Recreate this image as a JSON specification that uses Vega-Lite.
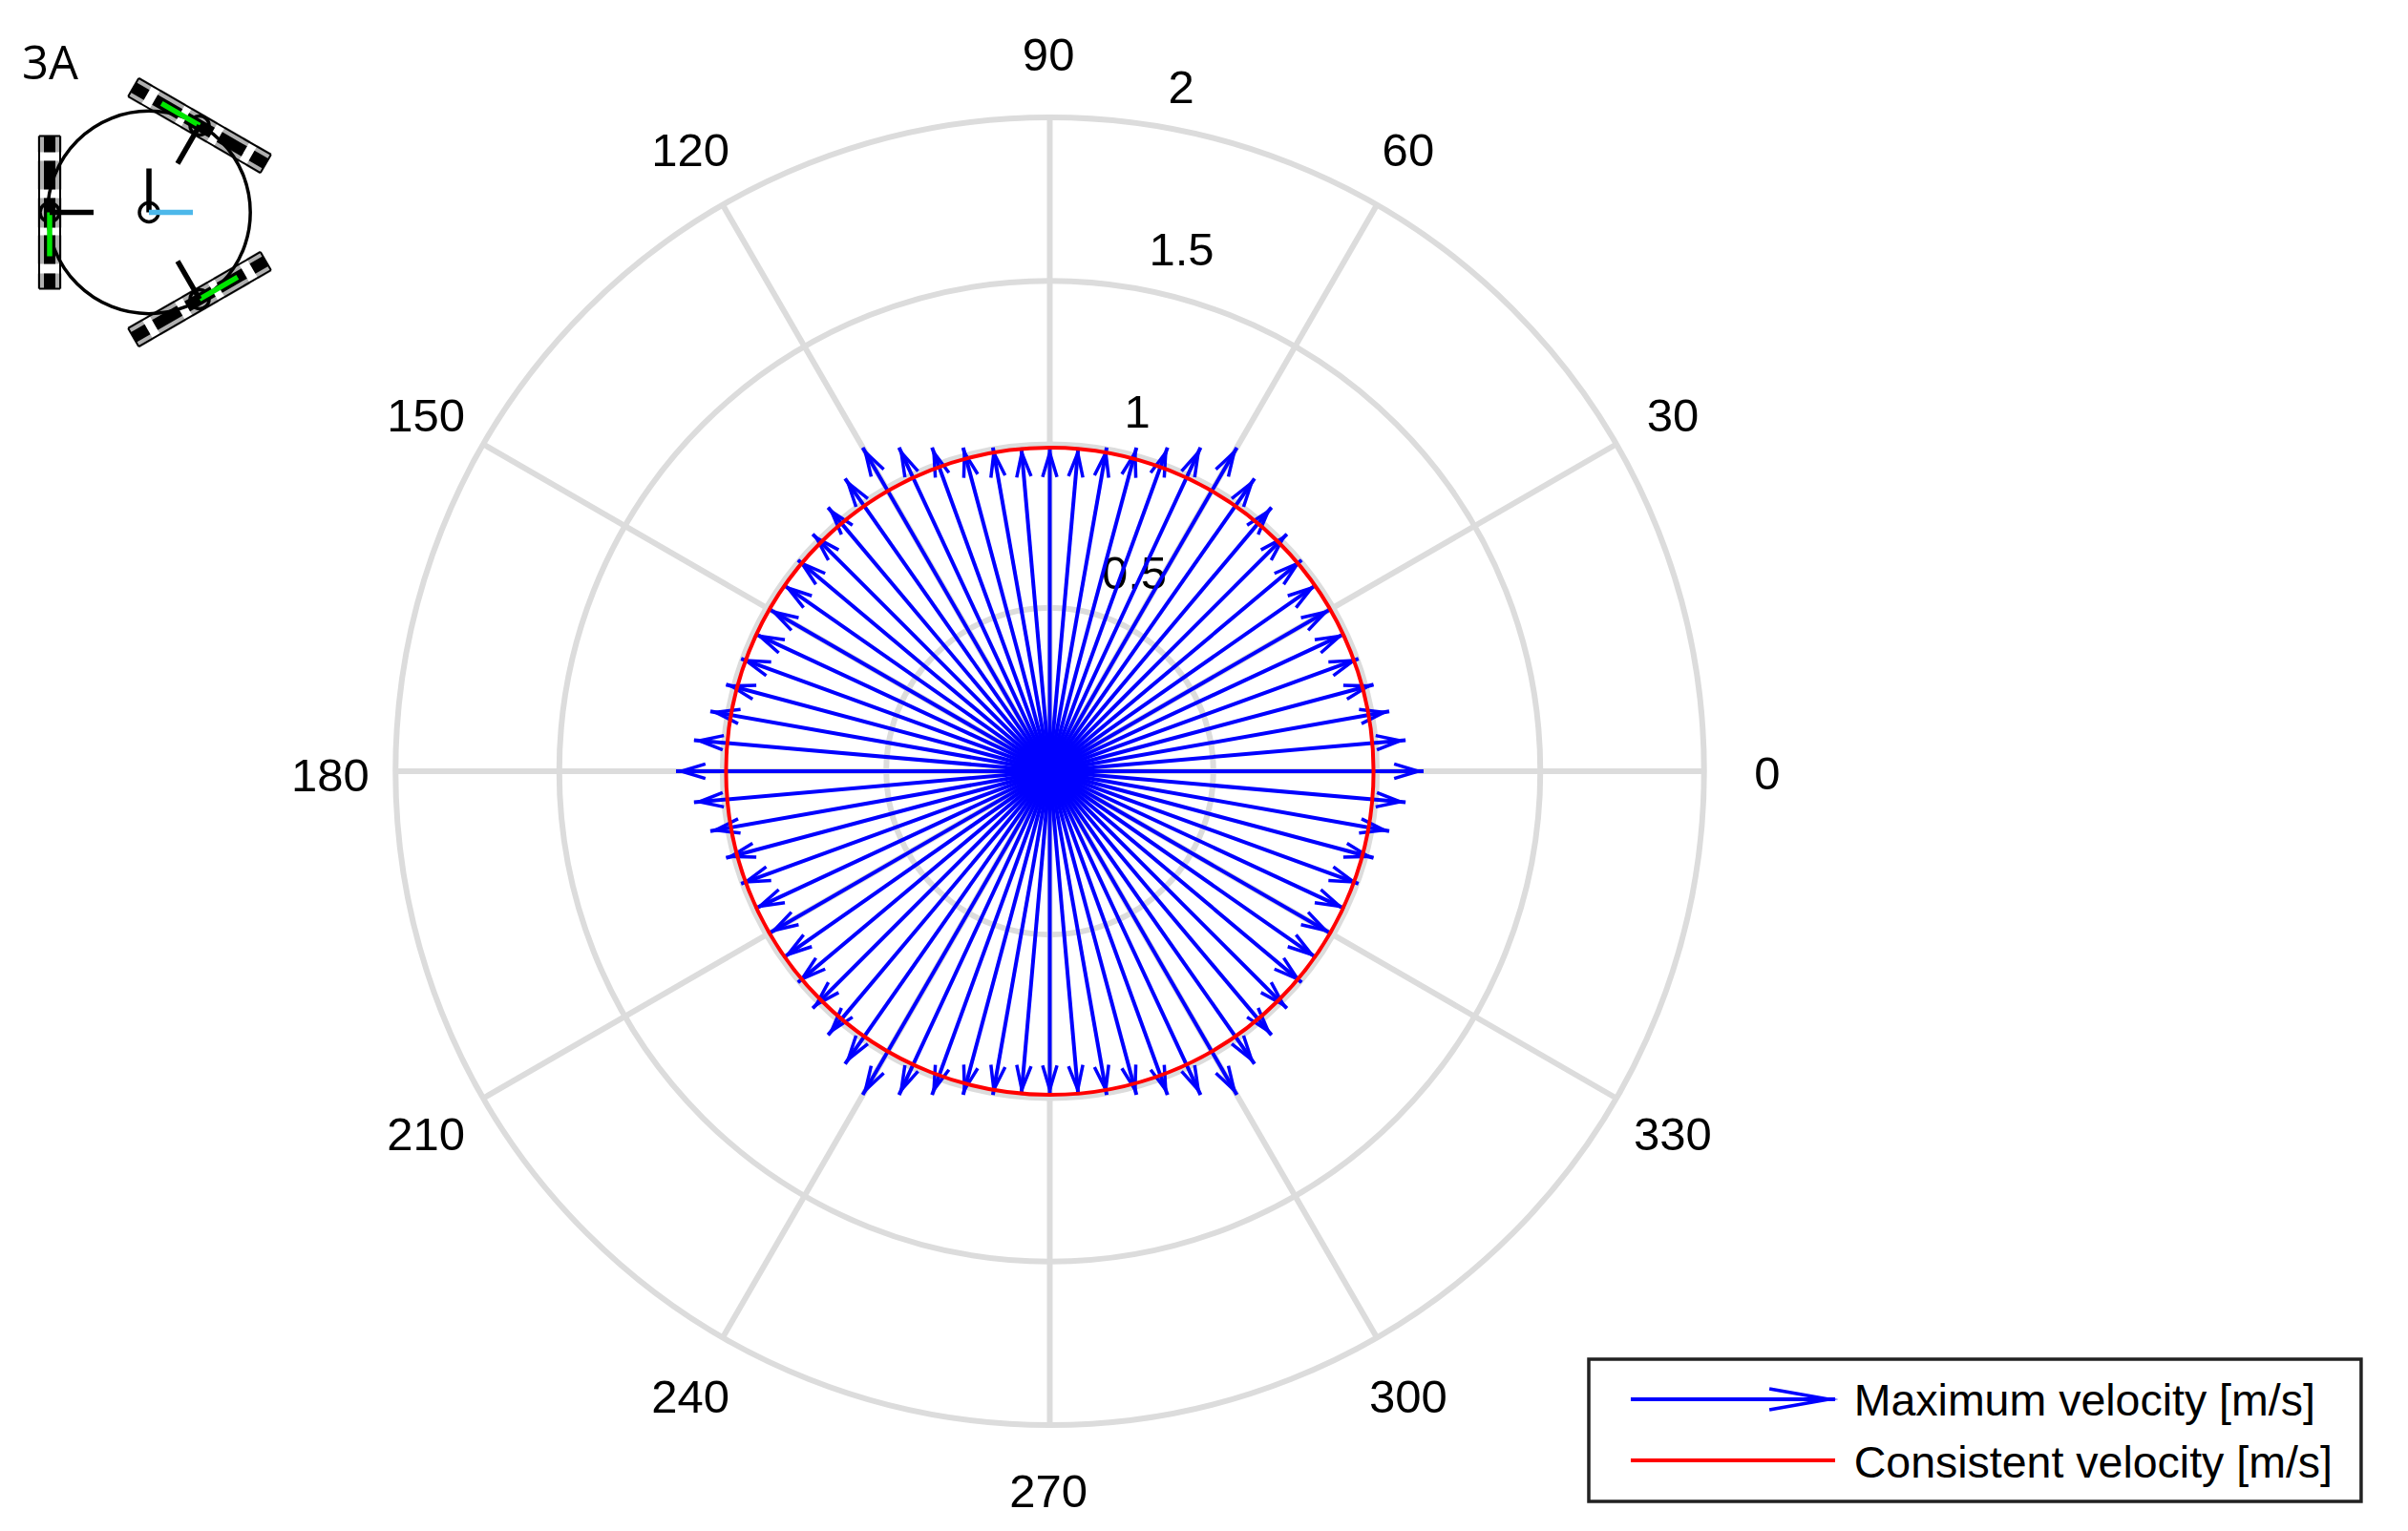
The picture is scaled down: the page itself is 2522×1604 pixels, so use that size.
{
  "$schema": "https://vega.github.io/schema/vega-lite/v6.json",
  "description": "Polar velocity plot of a three wheeled omni robot, maximum and consistent velocity per direction.",
  "width": 2522,
  "height": 1604,
  "padding": 0,
  "autosize": {"type": "none"},
  "background": "white",
  "config": {"view": {"stroke": null}},
  "resolve": {"scale": {"stroke": "independent"}},
  "datasets": {
    "rings": [{"x": 0, "y": 0, "r": 0.5}, {"x": 0, "y": 0, "r": 1}, {"x": 0, "y": 0, "r": 1.5}, {"x": 0, "y": 0, "r": 2}],
    "consistent": [{"x": 0, "y": 0, "r": 0.99}],
    "spokes": [
      {"x": 2, "y": 0}, {"x": 1.732, "y": 1}, {"x": 1, "y": 1.732}, {"x": 0, "y": 2}, {"x": -1, "y": 1.732}, {"x": -1.732, "y": 1},
      {"x": -2, "y": 0}, {"x": -1.732, "y": -1}, {"x": -1, "y": -1.732}, {"x": 0, "y": -2}, {"x": 1, "y": -1.732}, {"x": 1.732, "y": -1}
    ],
    "radialLabels": [
      {"label": "2", "x": 0.4015, "y": 2.0934}, {"label": "1.5", "x": 0.4029, "y": 1.5942},
      {"label": "1", "x": 0.2672, "y": 1.0993}, {"label": "0.5", "x": 0.2584, "y": 0.6058}
    ],
    "angleLabels": [
      {"label": "0", "x": 2.194, "y": -0.006}, {"label": "30", "x": 1.905, "y": 1.089}, {"label": "60", "x": 1.096, "y": 1.898},
      {"label": "90", "x": -0.004, "y": 2.19}, {"label": "120", "x": -1.099, "y": 1.898}, {"label": "150", "x": -1.908, "y": 1.089},
      {"label": "180", "x": -2.2, "y": -0.012}, {"label": "210", "x": -1.908, "y": -1.11}, {"label": "240", "x": -1.099, "y": -1.915},
      {"label": "270", "x": -0.004, "y": -2.204}, {"label": "300", "x": 1.096, "y": -1.915}, {"label": "330", "x": 1.905, "y": -1.11}
    ],
    "maxVelocity": [
      {"direction": 0, "x": 1.143, "y": 0}, {"direction": 5, "x": 1.088, "y": 0.095}, {"direction": 10, "x": 1.038, "y": 0.183},
      {"direction": 15, "x": 0.99, "y": 0.265}, {"direction": 20, "x": 0.944, "y": 0.344}, {"direction": 25, "x": 0.901, "y": 0.42},
      {"direction": 30, "x": 0.857, "y": 0.495}, {"direction": 35, "x": 0.814, "y": 0.57}, {"direction": 40, "x": 0.77, "y": 0.646},
      {"direction": 45, "x": 0.725, "y": 0.725}, {"direction": 50, "x": 0.678, "y": 0.807}, {"direction": 55, "x": 0.626, "y": 0.895},
      {"direction": 60, "x": 0.572, "y": 0.99}, {"direction": 65, "x": 0.461, "y": 0.99}, {"direction": 70, "x": 0.36, "y": 0.99},
      {"direction": 75, "x": 0.265, "y": 0.99}, {"direction": 80, "x": 0.174, "y": 0.99}, {"direction": 85, "x": 0.087, "y": 0.99},
      {"direction": 90, "x": 0, "y": 0.99}, {"direction": 95, "x": -0.087, "y": 0.99}, {"direction": 100, "x": -0.174, "y": 0.99},
      {"direction": 105, "x": -0.265, "y": 0.99}, {"direction": 110, "x": -0.36, "y": 0.99}, {"direction": 115, "x": -0.461, "y": 0.99},
      {"direction": 120, "x": -0.572, "y": 0.99}, {"direction": 125, "x": -0.626, "y": 0.895}, {"direction": 130, "x": -0.678, "y": 0.807},
      {"direction": 135, "x": -0.725, "y": 0.725}, {"direction": 140, "x": -0.77, "y": 0.646}, {"direction": 145, "x": -0.814, "y": 0.57},
      {"direction": 150, "x": -0.857, "y": 0.495}, {"direction": 155, "x": -0.901, "y": 0.42}, {"direction": 160, "x": -0.944, "y": 0.344},
      {"direction": 165, "x": -0.99, "y": 0.265}, {"direction": 170, "x": -1.038, "y": 0.183}, {"direction": 175, "x": -1.088, "y": 0.095},
      {"direction": 180, "x": -1.143, "y": 0}, {"direction": 185, "x": -1.088, "y": -0.095}, {"direction": 190, "x": -1.038, "y": -0.183},
      {"direction": 195, "x": -0.99, "y": -0.265}, {"direction": 200, "x": -0.944, "y": -0.344}, {"direction": 205, "x": -0.901, "y": -0.42},
      {"direction": 210, "x": -0.857, "y": -0.495}, {"direction": 215, "x": -0.814, "y": -0.57}, {"direction": 220, "x": -0.77, "y": -0.646},
      {"direction": 225, "x": -0.725, "y": -0.725}, {"direction": 230, "x": -0.678, "y": -0.807}, {"direction": 235, "x": -0.626, "y": -0.895},
      {"direction": 240, "x": -0.572, "y": -0.99}, {"direction": 245, "x": -0.461, "y": -0.99}, {"direction": 250, "x": -0.36, "y": -0.99},
      {"direction": 255, "x": -0.265, "y": -0.99}, {"direction": 260, "x": -0.174, "y": -0.99}, {"direction": 265, "x": -0.087, "y": -0.99},
      {"direction": 270, "x": 0, "y": -0.99}, {"direction": 275, "x": 0.087, "y": -0.99}, {"direction": 280, "x": 0.174, "y": -0.99},
      {"direction": 285, "x": 0.265, "y": -0.99}, {"direction": 290, "x": 0.36, "y": -0.99}, {"direction": 295, "x": 0.461, "y": -0.99},
      {"direction": 300, "x": 0.572, "y": -0.99}, {"direction": 305, "x": 0.626, "y": -0.895}, {"direction": 310, "x": 0.678, "y": -0.807},
      {"direction": 315, "x": 0.725, "y": -0.725}, {"direction": 320, "x": 0.77, "y": -0.646}, {"direction": 325, "x": 0.814, "y": -0.57},
      {"direction": 330, "x": 0.857, "y": -0.495}, {"direction": 335, "x": 0.901, "y": -0.42}, {"direction": 340, "x": 0.944, "y": -0.344},
      {"direction": 345, "x": 0.99, "y": -0.265}, {"direction": 350, "x": 1.038, "y": -0.183}, {"direction": 355, "x": 1.088, "y": -0.095}
    ],
    "rollers": [
      {"x": -3.0584, "y": 1.9431, "x2": -3.0584, "y2": 1.8935}, {"x": -3.0584, "y": 1.8672, "x2": -3.0584, "y2": 1.7796},
      {"x": -3.0584, "y": 1.7533, "x2": -3.0584, "y2": 1.6628}, {"x": -3.0584, "y": 1.6394, "x2": -3.0584, "y2": 1.5518},
      {"x": -3.0584, "y": 1.5226, "x2": -3.0584, "y2": 1.4759},
      {"x": -2.3976, "y": 1.8584, "x2": -2.4406, "y2": 1.8832}, {"x": -2.4633, "y": 1.8964, "x2": -2.5392, "y2": 1.9402},
      {"x": -2.562, "y": 1.9533, "x2": -2.6404, "y2": 1.9986}, {"x": -2.6606, "y": 2.0102, "x2": -2.7365, "y2": 2.054},
      {"x": -2.7618, "y": 2.0686, "x2": -2.8022, "y2": 2.092},
      {"x": -2.8022, "y": 1.327, "x2": -2.7592, "y2": 1.3518}, {"x": -2.7365, "y": 1.365, "x2": -2.6606, "y2": 1.4088},
      {"x": -2.6378, "y": 1.4219, "x2": -2.5594, "y2": 1.4672}, {"x": -2.5392, "y": 1.4788, "x2": -2.4633, "y2": 1.5226},
      {"x": -2.438, "y": 1.5372, "x2": -2.3976, "y2": 1.5606}
    ],
    "wheelEdges": [
      {"x": -3.0905, "y": 1.9431, "x2": -3.0263, "y2": 1.9431}, {"x": -3.0263, "y": 1.9431, "x2": -3.0263, "y2": 1.4759},
      {"x": -3.0263, "y": 1.4759, "x2": -3.0905, "y2": 1.4759}, {"x": -3.0905, "y": 1.4759, "x2": -3.0905, "y2": 1.9431},
      {"x": -2.7861, "y": 2.1198, "x2": -2.3815, "y2": 1.8862}, {"x": -2.3815, "y": 1.8862, "x2": -2.4137, "y2": 1.8306},
      {"x": -2.4137, "y": 1.8306, "x2": -2.8183, "y2": 2.0642}, {"x": -2.8183, "y": 2.0642, "x2": -2.7861, "y2": 2.1198},
      {"x": -2.3815, "y": 1.5328, "x2": -2.7861, "y2": 1.2992}, {"x": -2.7861, "y": 1.2992, "x2": -2.8183, "y2": 1.3548},
      {"x": -2.8183, "y": 1.3548, "x2": -2.4137, "y2": 1.5884}, {"x": -2.4137, "y": 1.5884, "x2": -2.3815, "y2": 1.5328}
    ],
    "robotBody": [
      {"x": -2.7547, "y": 1.7095, "r": 0.31}, {"x": -2.7547, "y": 1.7095, "r": 0.0292},
      {"x": -3.0584, "y": 1.7095, "r": 0.0292}, {"x": -2.5999, "y": 1.9752, "r": 0.0292}, {"x": -2.5999, "y": 1.4438, "r": 0.0292}
    ],
    "robotStrokes": [
      {"part": "wheel", "x": -3.0584, "y": 1.7095, "x2": -3.0584, "y2": 1.5752},
      {"part": "wheel", "x": -2.5999, "y": 1.9752, "x2": -2.7162, "y2": 2.0424},
      {"part": "wheel", "x": -2.5999, "y": 1.4438, "x2": -2.4836, "y2": 1.511},
      {"part": "axis", "x": -3.0584, "y": 1.7095, "x2": -2.9241, "y2": 1.7095},
      {"part": "axis", "x": -2.5999, "y": 1.9752, "x2": -2.6671, "y2": 1.8589},
      {"part": "axis", "x": -2.5999, "y": 1.4438, "x2": -2.6671, "y2": 1.5601},
      {"part": "axis", "x": -2.7547, "y": 1.7095, "x2": -2.7547, "y2": 1.8438},
      {"part": "heading", "x": -2.7547, "y": 1.7095, "x2": -2.6204, "y2": 1.7095}
    ],
    "legendBox": [{"x": 1.6482, "y": -1.7985, "x2": 4.01, "y2": -2.2336}],
    "legendKeys": [
      {"series": "Maximum velocity [m/s]", "x": 1.7766, "y": -1.9212, "x2": 2.4015, "y2": -1.9212},
      {"series": "Consistent velocity [m/s]", "x": 1.7766, "y": -2.108, "x2": 2.4015, "y2": -2.108}
    ],
    "legendHead": [{"direction": 0, "x": 2.4015, "y": -1.9212}],
    "legendLabels": [
      {"series": "Maximum velocity [m/s]", "x": 2.459, "y": -1.927},
      {"series": "Consistent velocity [m/s]", "x": 2.459, "y": -2.1168}
    ],
    "panelTag": [{"label": "3A", "x": -3.1431, "y": 2.1679}]
  },
  "encoding": {
    "x": {"field": "x", "type": "quantitative", "axis": null, "scale": {"domain": [-3.2102, 4.1533], "nice": false, "zero": false}},
    "y": {"field": "y", "type": "quantitative", "axis": null, "scale": {"domain": [-2.3241, 2.3591], "nice": false, "zero": false}}
  },
  "layer": [
    {
      "data": {"name": "rings"},
      "mark": {"type": "arc", "theta": 0, "theta2": 6.2832, "filled": false, "stroke": "#dcdcdc", "strokeWidth": 6},
      "encoding": {"radius": {"field": "r", "type": "quantitative", "stack": null, "scale": {"type": "linear", "domain": [0, 2], "range": [0, 685]}}}
    },
    {
      "data": {"name": "spokes"},
      "mark": {"type": "rule", "stroke": "#dcdcdc", "strokeWidth": 6},
      "encoding": {"x2": {"datum": 0}, "y2": {"datum": 0}}
    },
    {
      "data": {"name": "radialLabels"},
      "mark": {"type": "text", "font": "Liberation Sans", "fontSize": 49, "align": "center", "baseline": "middle", "dy": 1.5, "fill": "black"},
      "encoding": {"text": {"field": "label"}}
    },
    {
      "data": {"name": "angleLabels"},
      "mark": {"type": "text", "font": "Liberation Sans", "fontSize": 49, "align": "center", "baseline": "middle", "dy": 1.5, "fill": "black"},
      "encoding": {"text": {"field": "label"}}
    },
    {
      "data": {"name": "maxVelocity"},
      "mark": {"type": "rule", "stroke": "#0000ff", "strokeWidth": 4},
      "encoding": {"x2": {"datum": 0}, "y2": {"datum": 0}}
    },
    {
      "data": {"name": "maxVelocity"},
      "mark": {"type": "point", "shape": "M-0.27,1.1 L0,0.2 L0.27,1.1", "size": 3136, "filled": false, "opacity": 1, "stroke": "#0000ff", "strokeWidth": 3.5, "strokeJoin": "miter", "strokeMiterLimit": 10},
      "encoding": {"angle": {"field": "direction", "type": "quantitative", "scale": {"domain": [0, 360], "range": [90, -270]}}}
    },
    {
      "data": {"name": "consistent"},
      "mark": {"type": "arc", "theta": 0, "theta2": 6.2832, "filled": false, "stroke": "#ff0000", "strokeWidth": 4},
      "encoding": {"radius": {"field": "r", "type": "quantitative", "stack": null, "scale": {"type": "linear", "domain": [0, 2], "range": [0, 685]}}}
    },
    {
      "data": {"name": "rollers"},
      "mark": {"type": "rule", "stroke": "#b0b0b0", "strokeWidth": 25},
      "encoding": {"x2": {"field": "x2"}, "y2": {"field": "y2"}}
    },
    {
      "data": {"name": "rollers"},
      "mark": {"type": "rule", "stroke": "black", "strokeWidth": 12},
      "encoding": {"x2": {"field": "x2"}, "y2": {"field": "y2"}}
    },
    {
      "data": {"name": "wheelEdges"},
      "mark": {"type": "rule", "stroke": "black", "strokeWidth": 2},
      "encoding": {"x2": {"field": "x2"}, "y2": {"field": "y2"}}
    },
    {
      "data": {"name": "robotBody"},
      "mark": {"type": "arc", "theta": 0, "theta2": 6.2832, "filled": false, "stroke": "black", "strokeWidth": 3.5},
      "encoding": {"radius": {"field": "r", "type": "quantitative", "stack": null, "scale": {"type": "linear", "domain": [0, 2], "range": [0, 685]}}}
    },
    {
      "data": {"name": "robotStrokes"},
      "mark": {"type": "rule", "strokeWidth": 5.5},
      "encoding": {
        "x2": {"field": "x2"},
        "y2": {"field": "y2"},
        "stroke": {"field": "part", "type": "nominal", "legend": null, "scale": {"domain": ["wheel", "axis", "heading"], "range": ["#00e600", "black", "#4db8ea"]}}
      }
    },
    {
      "data": {"name": "panelTag"},
      "mark": {"type": "text", "font": "Open Sans", "fontSize": 49, "align": "left", "baseline": "middle", "dy": 3, "fill": "black"},
      "encoding": {"text": {"field": "label"}}
    },
    {
      "data": {"name": "legendBox"},
      "mark": {"type": "rect", "fill": "white", "stroke": "#222222", "strokeWidth": 3.5},
      "encoding": {"x2": {"field": "x2"}, "y2": {"field": "y2"}}
    },
    {
      "data": {"name": "legendKeys"},
      "mark": {"type": "rule", "strokeWidth": 4},
      "encoding": {
        "x2": {"field": "x2"},
        "y2": {"field": "y2"},
        "stroke": {"field": "series", "type": "nominal", "legend": null, "scale": {"domain": ["Maximum velocity [m/s]", "Consistent velocity [m/s]"], "range": ["#0000ff", "#ff0000"]}}
      }
    },
    {
      "data": {"name": "legendHead"},
      "mark": {"type": "point", "shape": "M-0.17,1.06 L0,0.1 L0.17,1.06", "size": 16900, "filled": false, "opacity": 1, "stroke": "#0000ff", "strokeWidth": 3.5, "strokeJoin": "miter", "strokeMiterLimit": 10},
      "encoding": {"angle": {"field": "direction", "type": "quantitative", "scale": {"domain": [0, 360], "range": [90, -270]}}}
    },
    {
      "data": {"name": "legendLabels"},
      "mark": {"type": "text", "font": "Liberation Sans", "fontSize": 46.5, "align": "left", "baseline": "middle", "dy": 1.5, "fill": "black"},
      "encoding": {"text": {"field": "series"}}
    }
  ]
}
